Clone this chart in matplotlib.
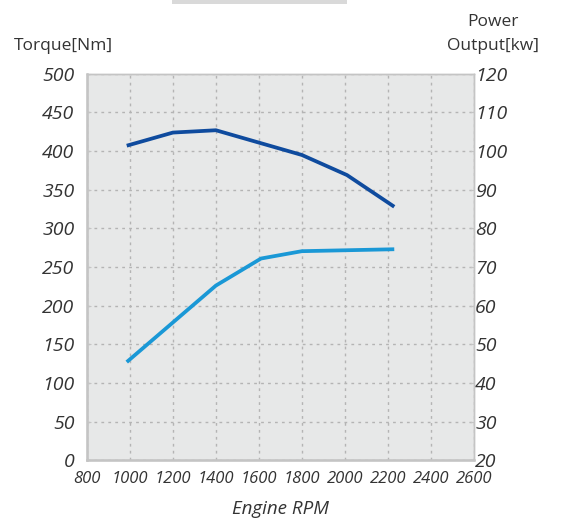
# -*- coding: utf-8 -*-
import matplotlib
matplotlib.use('Agg')
import matplotlib.pyplot as plt
from matplotlib.patches import Rectangle

# torque curve (left axis, Nm)
torque_rpm = [985, 1200, 1400, 1800, 2010, 2230]
torque_nm = [407, 424, 427, 395, 369, 328]

# power curve (right axis, kW)
power_rpm = [985, 1400, 1610, 1800, 2230]
power_kw = [45.4, 65.2, 72.2, 74.1, 74.6]

rpm_ticks = [800, 1000, 1200, 1400, 1600, 1800, 2000, 2200, 2400, 2600]
torque_ticks = [0, 50, 100, 150, 200, 250, 300, 350, 400, 450, 500]
power_ticks = [20, 30, 40, 50, 60, 70, 80, 90, 100, 110, 120]

TXT = '#333333'
FONT = 'Open Sans'

plt.rcParams['font.family'] = [FONT, 'DejaVu Sans']

fig = plt.figure(figsize=(5.63, 5.2), dpi=100)
ax = fig.add_axes([0.1545, 0.115, 0.687, 0.743])
ax2 = ax.twinx()

ax.set_facecolor('#e7e8e8')
ax.set_xlim(800, 2600)
ax.set_ylim(0, 500)
ax2.set_ylim(20, 120)
ax.set_xticks(rpm_ticks)
ax.set_yticks(torque_ticks)
ax2.set_yticks(power_ticks)

ax.grid(True, color='#b4b4b4', linestyle=(0, (2, 3)), linewidth=1.0)
ax.set_axisbelow(True)

ax.plot(torque_rpm, torque_nm, color='#0f4b9e', linewidth=2.7, solid_capstyle='butt', zorder=3)
ax2.plot(power_rpm, power_kw, color='#1a98d6', linewidth=2.7, solid_capstyle='butt', zorder=3)

for a in (ax, ax2):
    for s in a.spines.values():
        s.set_color('#c4c4c4')
        s.set_linewidth(1.0)
ax.spines['left'].set_linewidth(1.8)
ax.spines['bottom'].set_linewidth(1.8)

ax.tick_params(axis='y', direction='in', length=3, color='#c4c4c4', labelsize=14,
               labelcolor=TXT, pad=9)
ax.tick_params(axis='x', length=0, labelsize=12, labelcolor=TXT, pad=8)
ax2.tick_params(axis='y', direction='in', length=3, color='#c4c4c4', labelsize=14,
                labelcolor=TXT, pad=1)
for lab in ax.get_yticklabels() + ax.get_xticklabels() + ax2.get_yticklabels():
    lab.set_fontstyle('italic')

ax.set_xlabel('Engine RPM', fontsize=13.5, fontstyle='italic', color=TXT, labelpad=9)

fig.text(63 / 563, 1 - 46 / 520, 'Torque[Nm]', fontsize=12.5, color=TXT,
         ha='center', va='center')
fig.text(493 / 563, 1 - 22 / 520, 'Power', fontsize=12.5, color=TXT,
         ha='center', va='center')
fig.text(493 / 563, 1 - 46 / 520, 'Output[kw]', fontsize=12.5, color=TXT,
         ha='center', va='center')

# cut-off title box at the top
fig.patches.append(Rectangle((172 / 563, 1 - 4 / 520), 175 / 563, 4 / 520,
                             transform=fig.transFigure, facecolor='#d9d9d9',
                             edgecolor='none'))

fig.savefig('out.png', dpi=100)
